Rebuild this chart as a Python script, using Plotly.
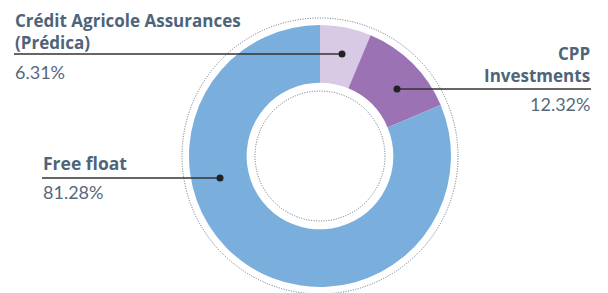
import plotly.graph_objects as go

labels = ["Crédit Agricole Assurances (Prédica)", "CPP Investments", "Free float"]
values = [6.31, 12.32, 81.28]
colors = ["#d8c9e4", "#9b73b5", "#7aafdd"]
label_titles = ["Crédit Agricole Assurances<br>(Prédica)", "CPP<br>Investments", "Free float"]

# page body has an 8px default margin; figure sized to fill the rest of the window
OFF = 8
W, H = 600, 285
CX, CY, R = 320, 156, 131  # screen coordinates

def px(x, y):
    return (x - OFF) / W, 1 - (y - OFF) / H

fig = go.Figure()
d0 = px(CX - R, CY + R)
d1 = px(CX + R, CY - R)
fig.add_trace(go.Pie(
    labels=labels, values=values, hole=0.56, sort=False, direction="clockwise",
    rotation=0, marker=dict(colors=colors, line=dict(width=0)),
    textinfo="none", hoverinfo="label+percent", showlegend=False,
    domain=dict(x=[d0[0], d1[0]], y=[d0[1], d1[1]]),
))

shapes = []
for rr in (138, 65):
    x0, y0 = px(CX - rr, CY + rr)
    x1, y1 = px(CX + rr, CY - rr)
    shapes.append(dict(type="circle", xref="paper", yref="paper", x0=x0, y0=y0, x1=x1, y1=y1,
                       line=dict(color="#5d7085", width=1, dash="1px,1.5px")))

title_color = "#4e6479"
pct_color = "#55697e"
line_color = "#333333"

leaders = [(14, 342, 54, 342), (397, 591, 89, 397), (42, 220, 178, 220)]
for xs, xe, y, dx in leaders:
    a = px(xs, y); b = px(xe, y)
    shapes.append(dict(type="line", xref="paper", yref="paper", x0=a[0], y0=a[1], x1=b[0], y1=b[1],
                       line=dict(color=line_color, width=1.5)))
    r = 3.5
    c0 = px(dx - r, y + r); c1 = px(dx + r, y - r)
    shapes.append(dict(type="circle", xref="paper", yref="paper", x0=c0[0], y0=c0[1], x1=c1[0], y1=c1[1],
                       fillcolor="#222222", line=dict(color="#222222", width=0)))

annotations = []
def add_text(text, x, y, anchor, yanchor="middle", bold=True, size=17.5):
    xx, yy = px(x, y)
    annotations.append(dict(
        text=text, x=xx, y=yy, xref="paper", yref="paper", xanchor=anchor, yanchor=yanchor,
        align=anchor, showarrow=False, borderpad=0,
        font=dict(family="Open Sans" if bold else "Lato", size=size,
                  color=title_color if bold else pct_color,
                  weight=700 if bold else 400)))

add_text(label_titles[0], 14, 8, "left", yanchor="top", size=17)
add_text(f"{values[0]:.2f}%", 14, 72, "left", bold=False, size=18)
add_text(label_titles[1], 591, 65, "right", size=17)
add_text(f"{values[1]:.2f}%", 591, 104, "right", bold=False, size=18)
add_text(label_titles[2], 42, 163, "left", size=17.5)
add_text(f"{values[2]:.2f}%", 42, 192, "left", bold=False, size=18)

fig.update_layout(
    width=W, height=H, margin=dict(l=0, r=0, t=0, b=0),
    paper_bgcolor="white", plot_bgcolor="white",
    shapes=shapes, annotations=annotations,
)
fig.write_html("out.html")
